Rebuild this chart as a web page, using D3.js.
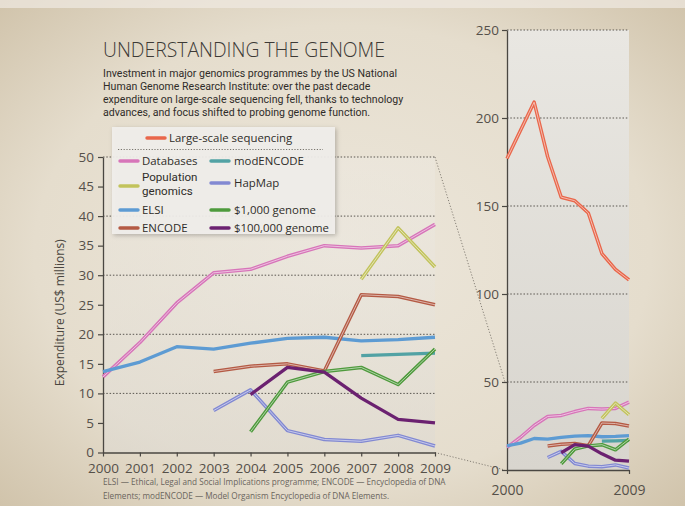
<!DOCTYPE html>
<html><head><meta charset="utf-8">
<script src="https://cdn.jsdelivr.net/npm/d3@7"></script>
<style>
html,body{margin:0;padding:0;background:#e4ddd0;}
svg{display:block;}
</style></head>
<body>
<script>
// ---------- DATA ----------
const years = [2000,2001,2002,2003,2004,2005,2006,2007,2008,2009];
const largeScaleSequencing = [177,193,209,178,155,153,146,123,114,108];
const databases   = [12.8,18.6,25.3,30.4,31.0,33.2,35.0,34.6,35.0,38.6];
const popGenomics = [null,null,null,null,null,null,null,29.3,38.0,31.4];
const elsi        = [13.7,15.3,17.9,17.5,18.5,19.3,19.5,18.9,19.1,19.5];
const encode      = [null,null,null,13.7,14.6,15.0,13.8,26.7,26.4,25.0];
const modEncode   = [null,null,null,null,null,null,null,16.4,16.6,16.8];
const hapMap      = [null,null,null,7.1,10.6,3.7,2.2,1.9,2.9,1.1];
const genome1000  = [null,null,null,null,3.5,11.9,13.7,14.4,11.5,17.5];
const genome100000= [null,null,null,null,9.8,14.4,13.6,9.2,5.6,5.0];
const mainTicks = [0,5,10,15,20,25,30,35,40,45,50];
const mainGrid  = [10,20,30,40,50];
const rightTicks = [0,50,100,150,200,250];
const rightYearLabels = [2000,2009];

const seriesNames = ["Databases","Population genomics","ELSI","ENCODE","modENCODE","HapMap","$1,000 genome","$100,000 genome"];
const seriesValues = [databases,popGenomics,elsi,encode,modEncode,hapMap,genome1000,genome100000];

// ---------- STYLE ----------
const colors = {
  "Large-scale sequencing":"#e9674b",
  "Databases":"#d775b9",
  "Population genomics":"#c2c35c",
  "ELSI":"#5d9bd3",
  "ENCODE":"#b45a44",
  "modENCODE":"#52a2a4",
  "HapMap":"#8289d2",
  "$1,000 genome":"#4e9a3c",
  "$100,000 genome":"#6b2170"
};
const doubleLine = {"Large-scale sequencing":true,"Databases":true,"Population genomics":true,"ENCODE":true,"HapMap":true,"$1,000 genome":true};
const drawOrder = ["Databases","Population genomics","ELSI","modENCODE","ENCODE","HapMap","$1,000 genome","$100,000 genome"];

const W=685,H=506;
const svg = d3.select("body").append("svg").attr("width",W).attr("height",H);
const defs = svg.append("defs");
const rg = defs.append("radialGradient").attr("id","paper").attr("cx","50%").attr("cy","50%").attr("r","75%");
rg.append("stop").attr("offset","0%").attr("stop-color","#ece6da");
rg.append("stop").attr("offset","60%").attr("stop-color","#e5ddcd");
rg.append("stop").attr("offset","100%").attr("stop-color","#cdbfa5");
svg.append("rect").attr("width",W).attr("height",H).attr("fill","url(#paper)");
svg.append("rect").attr("width",W).attr("height",8).attr("fill","#efeae2").attr("opacity",0.7);

const lg = defs.append("linearGradient").attr("id","plotbg").attr("x1",0).attr("y1",0).attr("x2",0).attr("y2",1);
lg.append("stop").attr("offset","0%").attr("stop-color","#efece6").attr("stop-opacity",0.35);
lg.append("stop").attr("offset","100%").attr("stop-color","#dedad2").attr("stop-opacity",0.6);
const lg2 = defs.append("linearGradient").attr("id","rightbg").attr("x1",0).attr("y1",0).attr("x2",0).attr("y2",1);
lg2.append("stop").attr("offset","0%").attr("stop-color","#e9e7e2");
lg2.append("stop").attr("offset","100%").attr("stop-color","#d8d5ce");
const sh = defs.append("filter").attr("id","shadow").attr("x","-10%").attr("y","-10%").attr("width","130%").attr("height","130%");
sh.append("feDropShadow").attr("dx",1.5).attr("dy",1.5).attr("stdDeviation",2).attr("flood-color","#000").attr("flood-opacity",0.25);

const font = "'Open Sans', sans-serif";
const font2 = "Roboto, 'Open Sans', sans-serif";

// ---------- SCALES ----------
const x = d3.scaleLinear().domain([2000,2009]).range([103,435]);
const y = d3.scaleLinear().domain([0,50]).range([452.5,157]);
const xr = d3.scaleLinear().domain([2000,2009]).range([507,629]);
const yr = d3.scaleLinear().domain([0,250]).range([470,30]);

// plot backgrounds
svg.append("rect").attr("x",x(2000)).attr("y",y(50)).attr("width",x(2009)-x(2000)).attr("height",y(0)-y(50)).attr("fill","url(#plotbg)");
svg.append("rect").attr("x",xr(2000)).attr("y",yr(250)).attr("width",xr(2009)-xr(2000)).attr("height",yr(0)-yr(250)).attr("fill","url(#rightbg)");

// connectors
svg.append("line").attr("x1",x(2009)).attr("y1",y(50)).attr("x2",xr(2000)-2).attr("y2",yr(50))
  .attr("stroke","#7a756c").attr("stroke-width",0.9).attr("stroke-dasharray","1.2,1.8");
svg.append("line").attr("x1",x(2009)).attr("y1",y(0)).attr("x2",xr(2000)-2).attr("y2",yr(0))
  .attr("stroke","#7a756c").attr("stroke-width",0.9).attr("stroke-dasharray","1.2,1.8");

// grid
svg.append("g").selectAll("line").data(mainGrid).join("line")
  .attr("x1",x(2000)).attr("x2",x(2009)).attr("y1",d=>y(d)).attr("y2",d=>y(d))
  .attr("stroke","#5a5650").attr("stroke-width",1).attr("stroke-dasharray","1.5,1.8");
svg.append("g").selectAll("line").data(rightTicks.filter(d=>d>0)).join("line")
  .attr("x1",xr(2000)).attr("x2",xr(2009)).attr("y1",d=>yr(d)).attr("y2",d=>yr(d))
  .attr("stroke","#5a5650").attr("stroke-width",1).attr("stroke-dasharray","1.5,1.8");

// axes
function styleAxis(g){
  g.selectAll("path").attr("stroke","#4a4742").attr("stroke-width",1.3);
  g.selectAll("line").attr("stroke","#4a4742").attr("stroke-width",1.2);
  g.selectAll("text").attr("fill","#555049").attr("font-family",font).attr("font-size","13.5px");
}
svg.append("g").attr("transform",`translate(${x(2000)},0)`)
  .call(d3.axisLeft(y).tickValues(mainTicks).tickSize(5).tickSizeOuter(0).tickPadding(4).tickFormat(d3.format("d")))
  .call(styleAxis);
svg.append("g").attr("transform",`translate(0,${y(0)})`)
  .call(d3.axisBottom(x).tickValues(years).tickSize(4).tickSizeOuter(0).tickPadding(7).tickFormat(d3.format("d")))
  .call(styleAxis).call(g=>g.selectAll("text").attr("font-size","13.5px"));
svg.append("g").attr("transform",`translate(${xr(2000)},0)`)
  .call(d3.axisLeft(yr).tickValues(rightTicks).tickSize(5).tickSizeOuter(0).tickPadding(3).tickFormat(d3.format("d")))
  .call(styleAxis);
svg.append("g").attr("transform",`translate(0,${yr(0)})`)
  .call(d3.axisBottom(xr).tickValues(rightYearLabels).tickSize(4).tickSizeOuter(0).tickPadding(11).tickFormat(d3.format("d")))
  .call(styleAxis).call(g=>g.selectAll("text").attr("font-size","14px"));

// y-axis title
svg.append("text").attr("transform",`translate(64,${(y(0)+y(50))/2+8}) rotate(-90)`)
  .attr("text-anchor","middle").attr("font-family",font).attr("font-size","12px").attr("fill","#4a4640")
  .text("Expenditure (US$ millions)");

// lines
function drawSeries(g, name, vals, xs, ys){
  const data = years.map((yr_,i)=>({x:yr_, v:vals[i]}));
  const line = d3.line().defined(d=>d.v!=null).x(d=>xs(d.x)).y(d=>ys(d.v));
  const c = colors[name];
  g.append("path").datum(data).attr("d",line).attr("fill","none").attr("stroke",c)
    .attr("stroke-width",doubleLine[name]?3.5:3.3).attr("stroke-linejoin","round").attr("stroke-linecap","butt");
  if(doubleLine[name]){
    g.append("path").datum(data).attr("d",line).attr("fill","none")
      .attr("stroke",d3.interpolateRgb(c,"#ffffff")(0.55)).attr("stroke-width",1).attr("stroke-linejoin","round");
  }
}
const gMain = svg.append("g");
drawOrder.forEach(n=>drawSeries(gMain,n,seriesValues[seriesNames.indexOf(n)],x,y));
const gRight = svg.append("g");
drawSeries(gRight,"Large-scale sequencing",largeScaleSequencing,xr,yr);
drawOrder.forEach(n=>drawSeries(gRight,n,seriesValues[seriesNames.indexOf(n)],xr,yr));

// title + subtitle
const title = svg.append("text").attr("x",103).attr("y",57).attr("font-family",font).attr("font-weight",300)
  .attr("font-size","19.5px").attr("fill","#3d3a36").text("UNDERSTANDING THE GENOME");
title.attr("textLength",282).attr("lengthAdjust","spacingAndGlyphs");

const sub = ["Investment in major genomics programmes by the US National",
  "Human Genome Research Institute: over the past decade",
  "expenditure on large-scale sequencing fell, thanks to technology",
  "advances, and focus shifted to probing genome function."];
const subT = svg.append("text").attr("font-family",font2).attr("font-size","11.8px").attr("fill","#2f2c29");
const tsp = subT.selectAll("tspan").data(sub).join("tspan")
  .attr("x",103).attr("y",(d,i)=>77+i*12.9).text(d=>d);
{
  const w0 = tsp.nodes()[0].getComputedTextLength();
  const f = 294 / w0;
  tsp.each(function(){ const w=this.getComputedTextLength(); d3.select(this).attr("textLength",w*f).attr("lengthAdjust","spacingAndGlyphs"); });
}

// legend
const leg = svg.append("g");
leg.append("rect").attr("x",112).attr("y",127).attr("width",223).attr("height",107)
  .attr("fill","#f1efeb").attr("fill-opacity",0.92).attr("filter","url(#shadow)");
function swatch(xp,yp,name){
  leg.append("line").attr("x1",xp).attr("x2",xp+18).attr("y1",yp).attr("y2",yp)
    .attr("stroke",colors[name]).attr("stroke-width",3.4).attr("stroke-linecap","round");
}
const lt = (xp,yp,t)=>leg.append("text").attr("x",xp).attr("y",yp).attr("font-family",font)
  .attr("font-size","11.4px").attr("fill","#2f2c29").text(t);
swatch(147,138,"Large-scale sequencing"); lt(169,142,"Large-scale sequencing");
leg.append("line").attr("x1",118).attr("x2",323).attr("y1",149.5).attr("y2",149.5)
  .attr("stroke","#6a665f").attr("stroke-width",0.9).attr("stroke-dasharray","1.2,1.6");
const col1 = ["Databases","Population genomics","ELSI","ENCODE"];
const col2 = ["modENCODE","HapMap","$1,000 genome","$100,000 genome"];
const rowY = [161,186,210,228];
col1.forEach((n,i)=>{
  swatch(120,rowY[i],n);
  if(n==="Population genomics"){
    const t = lt(142,0,null).attr("font-family",font2).attr("font-size","11.6px");
    t.append("tspan").attr("x",142).attr("y",rowY[i]-4.6).text("Population");
    t.append("tspan").attr("x",142).attr("y",rowY[i]+8.8).text("genomics");
  }
  else lt(142,rowY[i]+4,n);
});
col2.forEach((n,i)=>{
  const yy = i===1?183:rowY[i];
  swatch(211,yy,n); lt(234,yy+4,n);
});

// footnote
const foot = ["ELSI \u2014 Ethical, Legal and Social Implications programme; ENCODE \u2014 Encyclopedia of DNA",
  "Elements; modENCODE \u2014 Model Organism Encyclopedia of DNA Elements."];
const ft = svg.append("text").attr("font-family",font).attr("font-size","8.2px").attr("fill","#6a655d");
ft.selectAll("tspan").data(foot).join("tspan").attr("x",103).attr("y",(d,i)=>485+i*14).text(d=>d);
</script>
</body></html>
